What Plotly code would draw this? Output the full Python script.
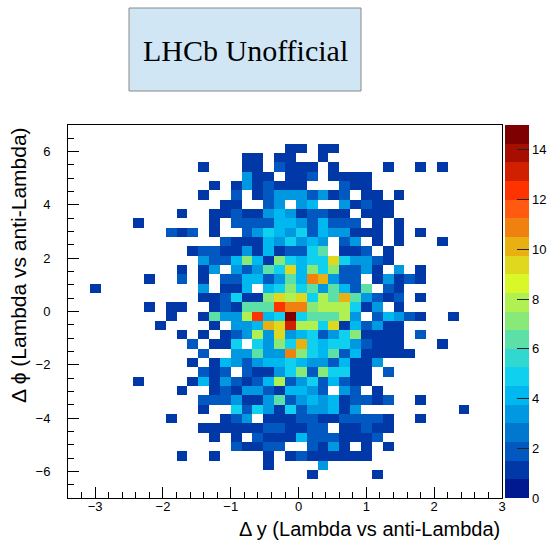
import plotly.graph_objects as go

# Histogram binning: 40 x 40 bins
X_MIN, X_MAX, NX = -3.4, 3.0, 40
Y_MIN, Y_MAX, NY = -7.0, 7.0, 40

# Bin contents, one dict per row of bins from the top (y = 7) down to the bottom (y = -7).
# Keys are the x-bin index (0 = leftmost), values are entries.
rows = [
    {},
    {},
    {20: 1, 21: 1, 23: 1, 24: 1},
    {16: 1, 17: 1, 19: 1, 20: 1, 23: 1},
    {12: 1, 16: 1, 17: 1, 19: 2, 20: 1, 21: 1, 22: 1, 24: 1, 29: 1, 32: 1, 34: 1},
    {16: 3, 17: 1, 18: 1, 20: 1, 21: 1, 22: 2, 24: 1, 25: 1, 26: 1, 27: 1},
    {13: 1, 15: 1, 16: 3, 17: 1, 18: 2, 19: 1, 20: 1, 21: 1, 25: 2, 26: 1, 27: 1},
    {12: 1, 15: 2, 17: 1, 18: 2, 19: 3, 20: 3, 21: 3, 22: 2, 23: 3, 24: 1, 25: 2, 27: 1, 28: 1, 30: 1},
    {14: 1, 15: 1, 18: 2, 19: 3, 21: 3, 22: 4, 25: 3, 26: 1, 27: 2, 28: 1, 29: 1},
    {10: 1, 13: 1, 14: 1, 15: 2, 16: 1, 17: 1, 18: 3, 19: 4, 20: 3, 21: 1, 22: 2, 23: 2, 24: 1, 25: 1,
     27: 1, 28: 1, 29: 1},
    {6: 1, 13: 1, 15: 2, 16: 2, 17: 2, 18: 2, 19: 4, 20: 4, 21: 3, 22: 2, 23: 4, 24: 2, 25: 2, 26: 2,
     28: 1, 30: 1},
    {9: 2, 10: 1, 11: 2, 13: 1, 16: 2, 17: 3, 18: 5, 19: 4, 20: 3, 21: 5, 22: 2, 23: 4, 24: 3, 25: 3,
     26: 1, 27: 1, 28: 1, 30: 1, 32: 1},
    {14: 2, 15: 1, 16: 1, 17: 1, 18: 4, 19: 3, 20: 5, 21: 3, 22: 4, 23: 3, 25: 2, 26: 3, 28: 1, 30: 1,
     34: 1},
    {11: 1, 12: 2, 13: 2, 14: 1, 15: 1, 16: 3, 17: 1, 18: 4, 19: 1, 20: 2, 21: 2, 22: 5, 23: 6, 25: 1,
     26: 1, 27: 2, 29: 1},
    {12: 3, 13: 2, 14: 2, 15: 4, 16: 7, 17: 4, 18: 1, 19: 7, 20: 5, 21: 4, 22: 5, 23: 5, 24: 9, 25: 5,
     26: 3, 27: 3, 28: 2, 29: 1},
    {10: 1, 12: 1, 13: 3, 15: 3, 16: 2, 17: 3, 18: 6, 19: 5, 20: 9, 21: 4, 22: 7, 23: 5, 24: 7, 25: 2,
     26: 2, 27: 3, 28: 1, 30: 3, 32: 1},
    {7: 1, 10: 2, 12: 1, 14: 2, 15: 2, 16: 4, 17: 4, 18: 2, 19: 3, 20: 6, 21: 4, 22: 11, 23: 10, 24: 3,
     25: 2, 26: 2, 28: 1, 29: 3, 30: 1, 31: 2, 32: 1},
    {2: 1, 12: 3, 14: 1, 15: 1, 16: 4, 18: 4, 19: 5, 20: 7, 21: 5, 22: 6, 23: 3, 24: 6, 25: 4, 26: 2,
     27: 6, 29: 2, 30: 1},
    {12: 1, 13: 1, 14: 2, 15: 5, 16: 1, 17: 1, 18: 7, 19: 9, 20: 8, 21: 9, 22: 5, 23: 8, 24: 6, 25: 10,
     26: 6, 27: 3, 28: 2, 29: 1, 30: 2, 32: 1},
    {7: 1, 9: 1, 10: 1, 13: 1, 14: 2, 15: 1, 16: 6, 17: 6, 18: 6, 19: 12, 20: 11, 21: 11, 22: 7, 23: 8,
     24: 8, 25: 8, 26: 5, 27: 1, 28: 3, 30: 1},
    {9: 1, 12: 1, 13: 6, 14: 3, 15: 3, 16: 8, 17: 12, 18: 4, 19: 5, 20: 15, 21: 5, 22: 6, 23: 6, 24: 6,
     25: 8, 26: 3, 28: 2, 29: 4, 30: 3, 31: 2, 32: 1, 35: 1},
    {8: 1, 13: 1, 15: 3, 16: 3, 17: 4, 18: 10, 19: 9, 20: 13, 21: 8, 22: 8, 23: 5, 24: 9, 25: 1, 26: 4,
     27: 2, 28: 3, 29: 1, 30: 1},
    {10: 1, 12: 1, 14: 1, 15: 2, 16: 3, 17: 8, 18: 3, 19: 9, 20: 3, 21: 4, 22: 5, 23: 2, 24: 3, 25: 5,
     26: 7, 27: 1, 28: 1, 29: 1, 30: 1, 32: 2},
    {11: 2, 13: 1, 14: 1, 15: 5, 17: 5, 18: 3, 19: 7, 20: 5, 21: 10, 22: 5, 23: 4, 24: 5, 25: 5, 26: 3,
     27: 2, 28: 1, 29: 1, 30: 1, 34: 1},
    {12: 2, 15: 3, 16: 3, 17: 6, 18: 3, 19: 3, 20: 11, 21: 7, 22: 5, 23: 4, 24: 6, 25: 2, 26: 4, 27: 1,
     28: 1, 29: 1, 30: 1, 31: 1},
    {11: 1, 13: 1, 14: 4, 15: 3, 16: 2, 17: 3, 18: 4, 19: 4, 20: 5, 21: 4, 22: 3, 23: 3, 24: 2, 25: 4,
     26: 1, 27: 1, 28: 3},
    {12: 2, 13: 1, 14: 2, 16: 2, 17: 1, 18: 1, 19: 3, 20: 5, 21: 7, 22: 2, 23: 7, 24: 5, 25: 5, 26: 1,
     27: 1, 29: 2},
    {6: 1, 11: 1, 12: 4, 13: 1, 14: 3, 15: 2, 16: 1, 17: 2, 18: 4, 19: 8, 20: 2, 21: 3, 22: 5, 23: 2,
     24: 4, 25: 2, 26: 1, 27: 1},
    {10: 1, 13: 1, 14: 2, 15: 1, 16: 3, 17: 3, 18: 2, 19: 1, 20: 4, 21: 4, 22: 3, 23: 2, 25: 3, 26: 2,
     28: 1},
    {12: 2, 13: 2, 14: 2, 15: 3, 16: 1, 17: 1, 18: 3, 19: 6, 20: 2, 21: 3, 22: 4, 23: 3, 24: 4, 25: 1,
     26: 2, 27: 2, 28: 1, 29: 2, 32: 1},
    {12: 1, 15: 5, 16: 2, 17: 5, 18: 3, 19: 1, 20: 5, 21: 2, 22: 3, 23: 3, 24: 4, 25: 1, 26: 3, 36: 1},
    {9: 1, 14: 1, 15: 2, 16: 3, 18: 1, 19: 1, 20: 1, 21: 2, 22: 2, 23: 1, 24: 1, 25: 2, 26: 2, 27: 2,
     28: 2, 29: 1, 32: 1},
    {12: 1, 13: 1, 14: 1, 15: 1, 16: 1, 17: 1, 18: 2, 19: 2, 20: 1, 21: 1, 22: 2, 23: 2, 25: 1, 26: 1,
     27: 2, 28: 1, 29: 1},
    {13: 1, 15: 1, 17: 2, 18: 1, 19: 1, 20: 1, 21: 4, 22: 2, 23: 2, 24: 2, 25: 1, 26: 1, 27: 1, 28: 2},
    {15: 2, 16: 1, 17: 1, 18: 2, 19: 2, 22: 2, 23: 1, 24: 3, 25: 1, 27: 1, 29: 1},
    {10: 1, 13: 1, 18: 1, 20: 1, 21: 2, 22: 1, 23: 1, 24: 1, 25: 1, 26: 1, 27: 1},
    {18: 1, 23: 3},
    {22: 1, 28: 1},
    {},
    {},
]

# Colour axis range and palette (20 contour levels, bottom to top)
Z_MIN, Z_MAX = 0, 15
palette = [
    "#001890", "#0038a8", "#0058c0", "#0078d0", "#0098e0",
    "#00b8f0", "#10d0f0", "#30d8d0", "#5ce0a8", "#88e878",
    "#b0f050", "#d8f828", "#e0d81e", "#e8b010", "#f08010",
    "#ff5a10", "#ff3300", "#d02000", "#a50e00", "#7f0000",
]
x_ticks = [-3, -2, -1, 0, 1, 2, 3]
y_ticks = [-6, -4, -2, 0, 2, 4, 6]
cbar_ticks = [0, 2, 4, 6, 8, 10, 12, 14]

# ---- build the histogram matrix (bottom row first for plotly) ----
dx = (X_MAX - X_MIN) / NX
dy = (Y_MAX - Y_MIN) / NY
z = []
for row in reversed(rows):
    z.append([row.get(i) for i in range(NX)])   # empty bins stay blank

# stepped colour scale; edges nudged down so integer contents fall in the upper level
n = len(palette)
scale = [[0.0, palette[0]]]
for k in range(1, n):
    edge = k / n - 1e-4
    scale.append([edge, palette[k - 1]])
    scale.append([edge, palette[k]])
scale.append([1.0, palette[-1]])

W, H = 555, 547
ML, MR, MT, MB = 68, 53, 125, 49
PW, PH = W - ML - MR, H - MT - MB


def fx(px):
    return (px - ML) / PW


def fy(py):
    return (H - MB - py) / PH


fig = go.Figure(go.Heatmap(
    z=z,
    x0=X_MIN + dx / 2, dx=dx,
    y0=Y_MIN + dy / 2, dy=dy,
    zmin=Z_MIN, zmax=Z_MAX,
    colorscale=scale,
    hoverongaps=False,
    colorbar=dict(
        x=fx(505), xanchor="left", xpad=0, ypad=0,
        y=0.5, yanchor="middle", len=1.0, lenmode="fraction",
        thickness=24, outlinewidth=0,
        tickvals=cbar_ticks, ticks="inside", ticklen=12, tickcolor="#222222",
        tickfont=dict(family="Liberation Sans", size=13, color="black"),
    ),
))

axis_common = dict(
    showline=True, linecolor="black", linewidth=1, mirror=True,
    showgrid=False, zeroline=False, automargin=False,
    ticks="inside", tickcolor="black", ticklen=11,
    tickfont=dict(family="Liberation Sans", size=13, color="black"),
)
fig.update_xaxes(range=[X_MIN, X_MAX], tickvals=x_ticks,
                 minor=dict(dtick=0.2, ticks="inside", ticklen=6, tickcolor="black"),
                 ticklabelstandoff=-4, **axis_common)
fig.update_yaxes(range=[Y_MIN, Y_MAX], tickvals=y_ticks,
                 minor=dict(dtick=0.5, ticks="inside", ticklen=6, tickcolor="black"),
                 ticklabelstandoff=14, **axis_common)

fig.update_layout(
    width=W, height=H,
    margin=dict(l=ML, r=MR, t=MT, b=MB, pad=0, autoexpand=False),
    paper_bgcolor="white", plot_bgcolor="white",
    shapes=[dict(type="rect", xref="paper", yref="paper",
                 x0=fx(129), x1=fx(361), y0=fy(91), y1=fy(8),
                 fillcolor="#d0e6f4", line=dict(color="#888888", width=1))],
    annotations=[
        dict(text="LHCb Unofficial", xref="paper", yref="paper",
             x=fx(245), y=fy(50), xanchor="center", yanchor="middle", showarrow=False,
             font=dict(family="Liberation Serif", size=30, color="black")),
        dict(text="Δ y (Lambda vs anti-Lambda)", xref="paper", yref="paper",
             x=1.0, y=fy(529), xanchor="right", yanchor="middle", showarrow=False,
             font=dict(family="Liberation Sans", size=20, color="black")),
        dict(text="Δ ϕ (Lambda vs anti-Lambda)", xref="paper", yref="paper", textangle=-90,
             x=fx(18), y=1.0, xanchor="center", yanchor="top", showarrow=False,
             font=dict(family="Liberation Sans", size=21, color="black")),
    ],
)

fig.write_html("out.html")
